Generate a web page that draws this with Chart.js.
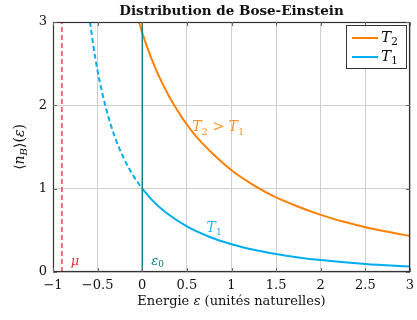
<!DOCTYPE html>
<html>
<head>
<meta charset="utf-8">
<script src="https://cdn.jsdelivr.net/npm/chart.js@4"></script>
<style>
  html, body { margin: 0; padding: 0; background: #fff; }
  #wrap { width: 417px; height: 320px; }
</style>
</head>
<body>
<div id="wrap"><canvas id="c" width="417" height="320"></canvas></div>
<script>
// values
var xTicks = [-1, -0.5, 0, 0.5, 1, 1.5, 2, 2.5, 3];
var yTicks = [0, 1, 2, 3];

var t2X = [-0.035, 0, 0.1, 0.2, 0.3, 0.4, 0.5, 0.6, 0.75, 1, 1.25, 1.5, 1.75, 2, 2.25, 2.5, 2.75, 3];
var t2Y = [3.0, 2.87, 2.57, 2.32, 2.11, 1.93, 1.77, 1.63, 1.46, 1.22, 1.04, 0.895, 0.783, 0.685, 0.605, 0.538, 0.482, 0.432];

var t1X = [0, 0.1, 0.25, 0.5, 0.75, 1, 1.25, 1.5, 1.75, 2, 2.5, 3];
var t1Y = [1.0, 0.875, 0.725, 0.547, 0.423, 0.333, 0.266, 0.215, 0.175, 0.143, 0.095, 0.065];

var t1DashX = [-0.585, -0.55, -0.5, -0.4, -0.3, -0.2, -0.1, 0];
var t1DashY = [3.0, 2.73, 2.41, 1.94, 1.60, 1.35, 1.155, 1.0];

var mu = -0.9;
var eps0 = 0;

var ORANGE = '#ff8000';
var BLUE = '#00aeef';
var TEAL = '#008080';
var RED = '#e8283c';
var SERIF = '"DejaVu Serif", serif';

function pts(xs, ys) {
    return xs.map(function(x, i) { return {x: x, y: ys[i]}; });
}

// draw text made of pieces: [text, kind] kind = '' | 'i' | 'sub' | 'isub'
drawRich = function(ctx, parts, x, y, align, size, color) {
    var fontFor = function(kind) {
        if (kind == 'i') return 'italic ' + size + 'px ' + SERIF;
        if (kind == 'sub') return Math.round(size * 0.7) + 'px ' + SERIF;
        if (kind == 'isub') return 'italic ' + Math.round(size * 0.7) + 'px ' + SERIF;
        return size + 'px ' + SERIF;
    };
    var total = 0;
    parts.forEach(function(p) {
        ctx.font = fontFor(p[1]);
        total += ctx.measureText(p[0]).width;
    });
    var cx = x;
    if (align == 'center') cx = x - total / 2;
    if (align == 'right') cx = x - total;
    ctx.fillStyle = color;
    ctx.textBaseline = 'middle';
    ctx.textAlign = 'left';
    parts.forEach(function(p) {
        ctx.font = fontFor(p[1]);
        var dy = (p[1] == 'sub' || p[1] == 'isub') ? size * 0.3 : 0;
        ctx.fillText(p[0], cx, y + dy);
        cx += ctx.measureText(p[0]).width;
    });
};

var extras = {
    id: 'extras',
    afterDraw: function(chart) {
        var ctx = chart.ctx;
        var a = chart.chartArea;
        var xs = chart.scales.x, ys = chart.scales.y;
        ctx.save();

        // frame + inward ticks
        ctx.strokeStyle = '#333';
        ctx.lineWidth = 1.2;
        ctx.strokeRect(a.left + 0.5, a.top + 0.5, a.right - a.left - 1, a.bottom - a.top - 1);
        ctx.strokeStyle = '#666';
        ctx.lineWidth = 1;
        xTicks.forEach(function(v) {
            var px = Math.round(xs.getPixelForValue(v)) + 0.5;
            ctx.beginPath();
            ctx.moveTo(px, a.bottom); ctx.lineTo(px, a.bottom - 4);
            ctx.moveTo(px, a.top); ctx.lineTo(px, a.top + 4);
            ctx.stroke();
        });
        yTicks.forEach(function(v) {
            var py = Math.round(ys.getPixelForValue(v)) + 0.5;
            ctx.beginPath();
            ctx.moveTo(a.left, py); ctx.lineTo(a.left + 4, py);
            ctx.moveTo(a.right, py); ctx.lineTo(a.right - 4, py);
            ctx.stroke();
        });

        // title
        ctx.fillStyle = '#111';
        ctx.font = 'bold 13.5px ' + SERIF;
        ctx.textAlign = 'center';
        ctx.textBaseline = 'middle';
        ctx.fillText('Distribution de Bose-Einstein', (a.left + a.right) / 2, 11);

        // x axis title
        drawRich(ctx, [['Energie ', ''], ['\u03b5', 'i'], [' (unités naturelles)', '']],
            (a.left + a.right) / 2, 302, 'center', 13, '#111');

        // y axis title
        ctx.save();
        ctx.translate(20, (a.top + a.bottom) / 2);
        ctx.rotate(-Math.PI / 2);
        drawRich(ctx, [['\u27e8', ''], ['n', 'i'], ['B', 'isub'], ['\u27e9(', ''], ['\u03b5', 'i'], [')', '']],
            0, 0, 'center', 14, '#111');
        ctx.restore();

        // annotations
        drawRich(ctx, [['T', 'i'], ['2', 'sub'], [' > ', ''], ['T', 'i'], ['1', 'sub']],
            xs.getPixelForValue(0.56), ys.getPixelForValue(1.73), 'left', 14, '#ff9428');
        drawRich(ctx, [['T', 'i'], ['1', 'sub']],
            xs.getPixelForValue(0.72), ys.getPixelForValue(0.52), 'left', 14, '#2bb8f0');
        drawRich(ctx, [['\u03bc', 'i']],
            xs.getPixelForValue(-0.8), ys.getPixelForValue(0.13), 'left', 13, RED);
        drawRich(ctx, [['\u03b5', 'i'], ['0', 'sub']],
            xs.getPixelForValue(0.1), ys.getPixelForValue(0.13), 'left', 13, TEAL);

        // legend
        var lx = 346, ly = 25, lw = 60, lh = 43;
        ctx.fillStyle = '#fff';
        ctx.fillRect(lx, ly, lw, lh);
        ctx.strokeStyle = '#333';
        ctx.lineWidth = 1;
        ctx.strokeRect(lx + 0.5, ly + 0.5, lw, lh);
        var rows = [[ORANGE, '2'], [BLUE, '1']];
        rows.forEach(function(r, i) {
            var yy = ly + 13 + i * 19;
            ctx.strokeStyle = r[0];
            ctx.lineWidth = 2;
            ctx.beginPath();
            ctx.moveTo(lx + 6, yy); ctx.lineTo(lx + 32, yy);
            ctx.stroke();
            drawRich(ctx, [['T', 'i'], [r[1], 'sub']], lx + 35, yy, 'left', 15, '#111');
        });

        ctx.restore();
    }
};

function noPad(s) {
    s.paddingLeft = 0; s.paddingRight = 0;
    s.paddingTop = 0; s.paddingBottom = 0;
}

var cfg = {
    type: 'line',
    data: {
        datasets: [
            {
                label: 'mu',
                data: pts([mu, mu], [0, 3]),
                borderColor: RED, borderWidth: 1.3, borderDash: [5, 3],
                pointRadius: 0, fill: false
            },
            {
                label: 'eps0',
                data: pts([eps0, eps0], [0, 3]),
                borderColor: TEAL, borderWidth: 1.4,
                pointRadius: 0, fill: false
            },
            {
                label: 'T2',
                data: pts(t2X, t2Y),
                borderColor: ORANGE, borderWidth: 2,
                pointRadius: 0, fill: false, cubicInterpolationMode: 'monotone'
            },
            {
                label: 'T1',
                data: pts(t1X, t1Y),
                borderColor: BLUE, borderWidth: 2,
                pointRadius: 0, fill: false, cubicInterpolationMode: 'monotone'
            },
            {
                label: 'T1 dashed',
                data: pts(t1DashX, t1DashY),
                borderColor: BLUE, borderWidth: 2, borderDash: [5, 3],
                pointRadius: 0, fill: false, cubicInterpolationMode: 'monotone'
            }
        ]
    },
    options: {
        responsive: false,
        animation: false,
        layout: { autoPadding: false, padding: { top: 22, right: 7, left: 0, bottom: 0 } },
        plugins: {
            legend: { display: false },
            tooltip: { enabled: false },
            title: { display: false }
        },
        scales: {
            x: {
                type: 'linear', min: -1, max: 3,
                afterFit: function(s) { s.height = 48; noPad(s); },
                afterBuildTicks: function(s) { s.ticks = xTicks.map(function(v) { return {value: v}; }); },
                grid: { color: '#cfcfcf', drawTicks: false },
                border: { display: false },
                ticks: {
                    padding: 6, color: '#111',
                    font: { family: SERIF, size: 13 },
                    callback: function(v) { return String(v).replace('-', '\u2212'); }
                }
            },
            y: {
                type: 'linear', min: 0, max: 3,
                afterFit: function(s) { s.width = 53; noPad(s); },
                afterBuildTicks: function(s) { s.ticks = yTicks.map(function(v) { return {value: v}; }); },
                grid: { color: '#cfcfcf', drawTicks: false },
                border: { display: false },
                ticks: {
                    padding: 6, color: '#111',
                    font: { family: SERIF, size: 13 }
                }
            }
        }
    },
    plugins: [extras]
};

new Chart(document.getElementById('c').getContext('2d'), cfg);
</script>
</body>
</html>
